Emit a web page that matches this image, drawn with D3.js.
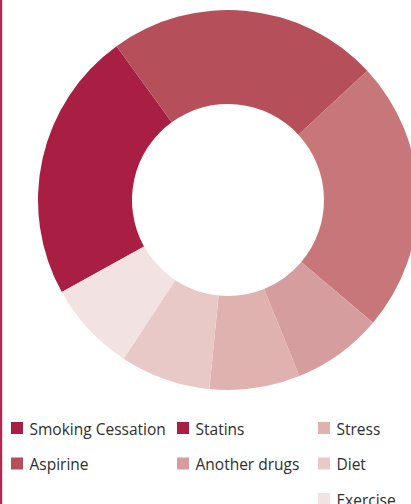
<!DOCTYPE html>
<html>
<head>
<meta charset="utf-8">
<script src="https://cdn.jsdelivr.net/npm/d3@7"></script>
<style>
  html, body { margin: 0; padding: 0; background: #fff; overflow: hidden; }
  svg { display: block; }
</style>
</head>
<body>
<div id="chart"></div>
<script>
// data
const categories = ['Smoking Cessation', 'Aspirine', 'Statins', 'Another drugs', 'Stress', 'Diet', 'Exercise'];
const values = [30, 30, 30, 10, 10, 10, 10];
const sliceColors = ['#a91f44', '#b5505b', '#c7777a', '#d69d9e', '#dfb1af', '#e8c9c7', '#f2e2e1'];
// the legend swatch of Statins is drawn dark in the source
const legendColors = ['#a91f44', '#b5505b', '#a91f44', '#d69d9e', '#dfb1af', '#e8c9c7', '#f2e2e1'];
const legendColumn = [0, 0, 1, 1, 2, 2, 2];
const legendRow = [0, 1, 0, 1, 0, 1, 2];

const width = 411, height = 504;
const cx = 228, cy = 200;
const outerR = 190, innerR = 96;

const svg = d3.select('#chart')
  .append('svg')
  .attr('width', width)
  .attr('height', height);

// thin bar on the left edge
svg.append('rect')
  .attr('x', 0).attr('y', 0)
  .attr('width', 2.2).attr('height', height)
  .attr('fill', '#b12a4e');

const start = -119 * Math.PI / 180;
const pie = d3.pie()
  .sort(null)
  .value(d => d)
  .startAngle(start)
  .endAngle(start + 2 * Math.PI);

const arc = d3.arc()
  .innerRadius(innerR)
  .outerRadius(outerR);

svg.append('g')
  .attr('transform', `translate(${cx},${cy})`)
  .selectAll('path')
  .data(pie(values))
  .enter()
  .append('path')
  .attr('d', arc)
  .attr('fill', (d, i) => sliceColors[i]);

// legend, laid out column by column
const colX = d3.scaleOrdinal().domain([0, 1, 2]).range([11, 177, 318]);
const rowY = d3.scaleLinear().domain([0, 1]).range([422, 457.5]);

const item = svg.append('g')
  .selectAll('g')
  .data(categories)
  .enter()
  .append('g')
  .attr('transform', (d, i) => `translate(${colX(legendColumn[i])},${rowY(legendRow[i])})`);

item.append('rect')
  .attr('width', 12).attr('height', 12)
  .attr('fill', (d, i) => legendColors[i]);

item.append('text')
  .attr('x', 18.5)
  .attr('y', 12.5)
  .attr('font-family', '"Open Sans", sans-serif')
  .attr('font-size', 15.5)
  .attr('fill', '#2e2e2e')
  .text(d => d);
</script>
</body>
</html>
